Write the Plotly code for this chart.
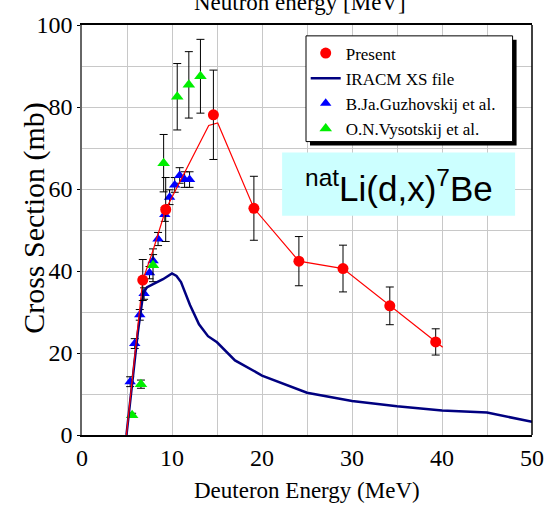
import plotly.graph_objects as go

# ---- data ----
present_x = [6.75, 9.3, 14.6, 19.1, 24.1, 29.0, 34.2, 39.3]
present_y = [37.8, 55.0, 78.1, 55.3, 42.4, 40.6, 31.5, 22.7]
present_err = [5.0, 7.8, 10.9, 7.8, 6.0, 5.7, 4.6, 3.2]

fit_x = [4.93, 6.16, 6.75, 7.89, 9.3, 14.08, 15.08, 19.1, 24.1, 29.0, 34.2, 39.3, 40.08]
fit_y = [0.0, 25.3, 37.8, 45.0, 55.0, 75.5, 76.1, 55.3, 42.4, 40.6, 31.5, 22.7, 21.4]

iracm_x = [4.94, 6.2, 6.8, 7.2, 7.9, 9.0, 10.0, 10.5, 11.0, 12.0, 13.0, 14.0, 15.0,
           17.0, 20.0, 25.0, 30.0, 35.0, 40.0, 45.0, 50.0]
iracm_y = [0.0, 25.0, 34.5, 36.0, 36.8, 38.0, 39.4, 38.8, 37.3, 31.7, 27.0, 24.1, 22.6,
           18.2, 14.5, 10.3, 8.3, 7.0, 6.0, 5.5, 3.2]

guz_x = [5.35, 5.86, 6.42, 6.9, 7.5, 7.9, 8.45, 9.2, 9.73, 10.3, 10.85, 11.4, 11.95]
guz_y = [13.0, 22.3, 29.3, 34.5, 39.6, 42.5, 47.8, 53.8, 58.0, 61.0, 63.3, 62.3, 62.3]
guz_err = [1.2, 1.2, 1.3, 1.4, 1.5, 1.5, 1.6, 1.7, 1.8, 1.8, 1.9, 1.9, 1.9]

vys_x = [5.57, 6.55, 7.89, 9.07, 10.58, 11.87, 13.16]
vys_y = [4.8, 12.4, 41.4, 66.3, 82.5, 85.4, 87.5]
vys_err = [0.5, 1.0, 4.0, 7.0, 8.1, 8.1, 9.0]

x_ticks = [0, 10, 20, 30, 40, 50]
y_ticks = [0, 20, 40, 60, 80, 100]

SERIF = "Liberation Serif"
SANS = "Liberation Sans"

L, R, T, B = 82, 22, 20, 70
W, H = 556, 505
PW, PH = W - L - R, H - T - B


def px(xp):
    return (xp - L) / PW


def py(yp):
    return 1 - (yp - T) / PH


fig = go.Figure()

fig.add_trace(go.Scatter(
    x=guz_x, y=guz_y, mode="markers", name="B.Ja.Guzhovskij et al.",
    marker=dict(symbol="triangle-up", color="#0000ff", size=10),
    error_y=dict(type="data", array=guz_err, color="black", thickness=1, width=4),
    legendrank=3))

fig.add_trace(go.Scatter(
    x=vys_x, y=vys_y, mode="markers", name="O.N.Vysotskij et al.",
    marker=dict(symbol="triangle-up", color="#00ee00", size=11),
    error_y=dict(type="data", array=vys_err, color="black", thickness=1, width=4),
    legendrank=4))

fig.add_trace(go.Scatter(
    x=iracm_x, y=iracm_y, mode="lines", name="IRACM XS file",
    line=dict(color="#000080", width=2.5), legendrank=2))

fig.add_trace(go.Scatter(
    x=fit_x, y=fit_y, mode="lines", showlegend=False,
    line=dict(color="#ff0000", width=1.2)))

fig.add_trace(go.Scatter(
    x=present_x, y=present_y, mode="markers", name="Present",
    marker=dict(symbol="circle", color="#ff0000", size=11),
    error_y=dict(type="data", array=present_err, color="black", thickness=1, width=4),
    legendrank=1))

grid = "#c8c8c8"
fig.update_xaxes(
    range=[0, 50], tickvals=x_ticks, ticktext=[str(v) for v in x_ticks],
    showgrid=True, gridcolor=grid, gridwidth=1,
    minor=dict(dtick=5, showgrid=True, gridcolor=grid, gridwidth=1),
    showline=True, linecolor="black", linewidth=1.5, mirror=True,
    ticks="", zeroline=False,
    tickfont=dict(family=SERIF, size=24, color="black"))
fig.update_yaxes(
    range=[0, 100], tickvals=y_ticks, ticktext=[str(v) for v in y_ticks],
    showgrid=True, gridcolor=grid, gridwidth=1,
    minor=dict(dtick=10, showgrid=True, gridcolor=grid, gridwidth=1),
    showline=True, linecolor="#666666", linewidth=1.5, mirror=False,
    ticks="outside", ticklen=3, tickcolor="black",
    zeroline=False,
    tickfont=dict(family=SERIF, size=24, color="black"))

shapes = [
    # right border
    dict(type="line", xref="paper", yref="paper", x0=1, x1=1, y0=0, y1=1,
         line=dict(color="black", width=1.5), layer="above"),
    # legend shadow
    dict(type="rect", xref="paper", yref="paper",
         x0=px(311), x1=px(518.5), y0=py(142), y1=py(35),
         fillcolor="black", line=dict(width=0), layer="above"),
    # legend frame
    dict(type="rect", xref="paper", yref="paper",
         x0=px(307), x1=px(514.5), y0=py(138), y1=py(31),
         fillcolor="white", line=dict(color="black", width=1), layer="above"),
    # label box
    dict(type="rect", xref="paper", yref="paper",
         x0=px(283), x1=px(517), y0=py(213), y1=py(149),
         fillcolor="#ccffff", line=dict(width=0), layer="above"),
]

annotations = [
    dict(text="<sup>nat</sup>Li(d,x)<sup>7</sup>Be", xref="paper", yref="paper",
         x=px(400), y=py(183), xanchor="center", yanchor="middle", showarrow=False,
         font=dict(family=SANS, size=35, color="black")),
    dict(text="Deuteron Energy (MeV)", xref="paper", yref="paper",
         x=px(308), y=py(491), xanchor="center", yanchor="middle", showarrow=False,
         font=dict(family=SERIF, size=23, color="black")),
    dict(text="Cross Section (mb)", xref="paper", yref="paper", textangle=-90,
         x=px(33), y=py(215), xanchor="center", yanchor="middle", showarrow=False,
         font=dict(family=SERIF, size=30, color="black")),
    dict(text="Neutron energy [MeV]", xref="paper", yref="paper",
         x=px(301), y=py(-3), xanchor="center", yanchor="middle", showarrow=False,
         font=dict(family=SERIF, size=23, color="black")),
]

fig.update_layout(
    width=W, height=H,
    margin=dict(l=L, r=R, t=T, b=B),
    paper_bgcolor="white", plot_bgcolor="white",
    showlegend=True,
    legend=dict(x=px(306.7), y=py(30.7), xanchor="left", yanchor="top",
                bgcolor="rgba(0,0,0,0)", borderwidth=0,
                font=dict(family=SERIF, size=17, color="black"),
                tracegroupgap=0, itemwidth=30),
    shapes=shapes, annotations=annotations,
)

fig.write_html("out.html")
